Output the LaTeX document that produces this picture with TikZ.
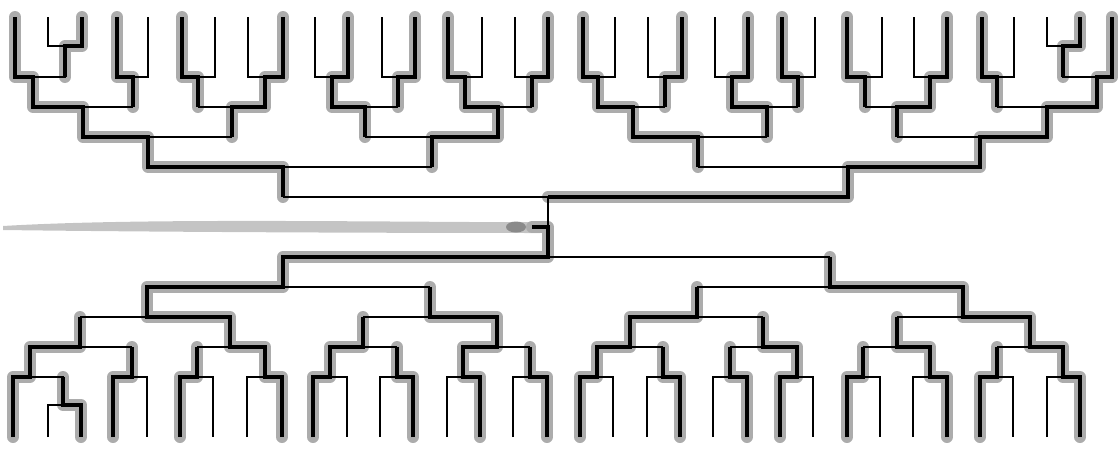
\documentclass[tikz,border=0pt]{standalone}
\pgfdeclarelayer{bg}
\pgfsetlayers{bg,main}
\definecolor{haloc}{RGB}{172,172,172}
\definecolor{strokec}{RGB}{196,196,196}
\tikzset{
  thinln/.style={line width=1.3pt, black},
  thickln/.style={line width=3.2pt, black, line join=miter},
  halo/.style={line width=12pt, haloc, line join=round, line cap=round, shift={(1.5,1.5)}},
}
% game: name, xL, yL, xR, yR, yJ, xC, yOut
\newcommand\gm[8]{%
  \coordinate (#1L) at (#2,#3);
  \coordinate (#1R) at (#4,#5);
  \coordinate (#1J) at (#7,#6);
  \coordinate (#1O) at (#7,#8);
  \draw[thinln] (#1L) |- (#1J) -| (#1R);
  \draw[thinln] (#1J) -- (#1O);
}
\newcommand\winpaths[1]{%
  % top
  \draw[#1] (TPaR) |- (TPaJ) -- (TPaO);
  \draw[#1] (T1aL) |- (T1aJ) -- (T1aO) |- (T2aJ) -- (T2aO) |- (T3aJ) -- (T3aO) |- (T4aJ) -- (T4aO);
  \draw[#1] (T1bL) |- (T1bJ) -- (T1bO);
  \draw[#1] (T1cL) |- (T1cJ) -- (T1cO);
  \draw[#1] (T1dR) |- (T1dJ) -- (T1dO) |- (T2bJ) -- (T2bO);
  \draw[#1] (T1eR) |- (T1eJ) -- (T1eO) |- (T2cJ) -- (T2cO);
  \draw[#1] (T1fR) |- (T1fJ) -- (T1fO);
  \draw[#1] (T1gL) |- (T1gJ) -- (T1gO) |- (T2dJ) -- (T2dO) |- (T3bJ) -- (T3bO);
  \draw[#1] (T1hR) |- (T1hJ) -- (T1hO);
  \draw[#1] (T1iL) |- (T1iJ) -- (T1iO) |- (T2eJ) -- (T2eO) |- (T3cJ) -- (T3cO);
  \draw[#1] (T1jR) |- (T1jJ) -- (T1jO);
  \draw[#1] (T1kR) |- (T1kJ) -- (T1kO) |- (T2fJ) -- (T2fO);
  \draw[#1] (T1lL) |- (T1lJ) -- (T1lO);
  \draw[#1] (T1mL) |- (T1mJ) -- (T1mO);
  \draw[#1] (T1nR) |- (T1nJ) -- (T1nO) |- (T2gJ) -- (T2gO);
  \draw[#1] (T1oL) |- (T1oJ) -- (T1oO);
  \draw[#1] (TPbR) |- (TPbJ) -- (TPbO);
  \draw[#1] (T1pR) |- (T1pJ) -- (T1pO) |- (T2hJ) -- (T2hO) |- (T3dJ) -- (T3dO) |- (T4bJ) -- (T4bO) |- (T5J);
  % bottom
  \draw[#1] (BPaR) |- (BPaJ) -- (BPaO);
  \draw[#1] (B1aL) |- (B1aJ) -- (B1aO) |- (B2aJ) -- (B2aO);
  \draw[#1] (B1bL) |- (B1bJ) -- (B1bO);
  \draw[#1] (B1cL) |- (B1cJ) -- (B1cO);
  \draw[#1] (B1dR) |- (B1dJ) -- (B1dO) |- (B2bJ) -- (B2bO) |- (B3aJ) -- (B3aO) |- (B4aJ) -- (B4aO) |- (B5J) -- (B5O) -- (champ);
  \draw[#1] (B1eL) |- (B1eJ) -- (B1eO) |- (B2cJ) -- (B2cO);
  \draw[#1] (B1fR) |- (B1fJ) -- (B1fO);
  \draw[#1] (B1gR) |- (B1gJ) -- (B1gO) |- (B2dJ) -- (B2dO) |- (B3bJ) -- (B3bO);
  \draw[#1] (B1hR) |- (B1hJ) -- (B1hO);
  \draw[#1] (B1iL) |- (B1iJ) -- (B1iO) |- (B2eJ) -- (B2eO) |- (B3cJ) -- (B3cO);
  \draw[#1] (B1jR) |- (B1jJ) -- (B1jO);
  \draw[#1] (B1kR) |- (B1kJ) -- (B1kO);
  \draw[#1] (B1lL) |- (B1lJ) -- (B1lO) |- (B2fJ) -- (B2fO);
  \draw[#1] (B1mL) |- (B1mJ) -- (B1mO);
  \draw[#1] (B1nR) |- (B1nJ) -- (B1nO) |- (B2gJ) -- (B2gO);
  \draw[#1] (B1oL) |- (B1oJ) -- (B1oO);
  \draw[#1] (B1pR) |- (B1pJ) -- (B1pO) |- (B2hJ) -- (B2hO) |- (B3dJ) -- (B3dO) |- (B4bJ) -- (B4bO);
}
\begin{document}
\begin{tikzpicture}[x=1pt,y=-1pt]
\useasboundingbox (0,0) rectangle (1120,450);
% ---------- top tree ----------
\gm{TPa}{48}{17}{82}{17}{46}{65}{77}
\gm{TPb}{1047}{17}{1080}{17}{46}{1063}{77}
\gm{T1a}{15}{17}{65}{46}{77}{33}{107}
\gm{T1b}{117}{17}{148}{17}{77}{133}{107}
\gm{T1c}{182}{17}{215}{17}{77}{198}{107}
\gm{T1d}{248}{17}{283}{17}{77}{265}{107}
\gm{T1e}{315}{17}{348}{17}{77}{332}{107}
\gm{T1f}{382}{17}{415}{17}{77}{398}{107}
\gm{T1g}{448}{17}{482}{17}{77}{465}{107}
\gm{T1h}{515}{17}{548}{17}{77}{532}{107}
\gm{T1i}{583}{17}{615}{17}{77}{598}{107}
\gm{T1j}{648}{17}{682}{17}{77}{665}{107}
\gm{T1k}{715}{17}{748}{17}{77}{732}{107}
\gm{T1l}{782}{17}{815}{17}{77}{798}{107}
\gm{T1m}{847}{17}{882}{17}{77}{865}{107}
\gm{T1n}{914}{17}{947}{17}{77}{930}{107}
\gm{T1o}{982}{17}{1014}{17}{77}{997}{107}
\gm{T1p}{1063}{46}{1112}{17}{77}{1097}{107}
\gm{T2a}{33}{107}{133}{107}{107}{83}{137}
\gm{T2b}{198}{107}{265}{107}{107}{232}{137}
\gm{T2c}{332}{107}{398}{107}{107}{365}{137}
\gm{T2d}{465}{107}{532}{107}{107}{498}{137}
\gm{T2e}{598}{107}{665}{107}{107}{633}{137}
\gm{T2f}{732}{107}{798}{107}{107}{767}{137}
\gm{T2g}{865}{107}{930}{107}{107}{897}{137}
\gm{T2h}{997}{107}{1097}{107}{107}{1047}{137}
\gm{T3a}{83}{137}{232}{137}{137}{148}{167}
\gm{T3b}{365}{137}{498}{137}{137}{432}{167}
\gm{T3c}{633}{137}{767}{137}{137}{698}{167}
\gm{T3d}{897}{137}{1047}{137}{137}{980}{167}
\gm{T4a}{148}{167}{432}{167}{167}{283}{197}
\gm{T4b}{698}{167}{980}{167}{167}{848}{197}
\gm{T5}{283}{197}{848}{197}{197}{548}{227}
% ---------- bottom tree ----------
\gm{BPa}{48}{437}{81}{437}{405}{63}{377}
\gm{B1a}{13}{437}{63}{405}{377}{30}{347}
\gm{B1b}{113}{437}{147}{437}{377}{132}{347}
\gm{B1c}{180}{437}{213}{437}{377}{197}{347}
\gm{B1d}{247}{437}{282}{437}{377}{265}{347}
\gm{B1e}{313}{437}{347}{437}{377}{330}{347}
\gm{B1f}{380}{437}{413}{437}{377}{397}{347}
\gm{B1g}{447}{437}{480}{437}{377}{463}{347}
\gm{B1h}{513}{437}{547}{437}{377}{530}{347}
\gm{B1i}{580}{437}{613}{437}{377}{597}{347}
\gm{B1j}{647}{437}{680}{437}{377}{663}{347}
\gm{B1k}{713}{437}{747}{437}{377}{730}{347}
\gm{B1l}{780}{437}{813}{437}{377}{797}{347}
\gm{B1m}{847}{437}{880}{437}{377}{863}{347}
\gm{B1n}{913}{437}{947}{437}{377}{930}{347}
\gm{B1o}{980}{437}{1013}{437}{377}{997}{347}
\gm{B1p}{1047}{437}{1080}{437}{377}{1063}{347}
\gm{B2a}{30}{347}{132}{347}{347}{80}{317}
\gm{B2b}{197}{347}{265}{347}{347}{230}{317}
\gm{B2c}{330}{347}{397}{347}{347}{363}{317}
\gm{B2d}{463}{347}{530}{347}{347}{497}{317}
\gm{B2e}{597}{347}{663}{347}{347}{630}{317}
\gm{B2f}{730}{347}{797}{347}{347}{763}{317}
\gm{B2g}{863}{347}{930}{347}{347}{897}{317}
\gm{B2h}{997}{347}{1063}{347}{347}{1030}{317}
\gm{B3a}{80}{317}{230}{317}{317}{147}{287}
\gm{B3b}{363}{317}{497}{317}{317}{430}{287}
\gm{B3c}{630}{317}{763}{317}{317}{697}{287}
\gm{B3d}{897}{317}{1030}{317}{317}{963}{287}
\gm{B4a}{147}{287}{430}{287}{287}{283}{257}
\gm{B4b}{697}{287}{963}{287}{287}{830}{257}
\gm{B5}{283}{257}{830}{257}{257}{548}{227}
\coordinate (champ) at (532,227);
% ---------- highlights ----------
\begin{pgfonlayer}{bg}
  \fill[strokec] (3,226) .. controls (120,219) and (300,221) .. (470,222)
     -- (540,222) -- (540,233) .. controls (380,233) and (150,232) .. (3,230) -- cycle;
  \fill[haloc!80!black] (516,227) ellipse (10 and 5.5);
  \winpaths{halo}
\end{pgfonlayer}
\winpaths{thickln}
\end{tikzpicture}
\end{document}
